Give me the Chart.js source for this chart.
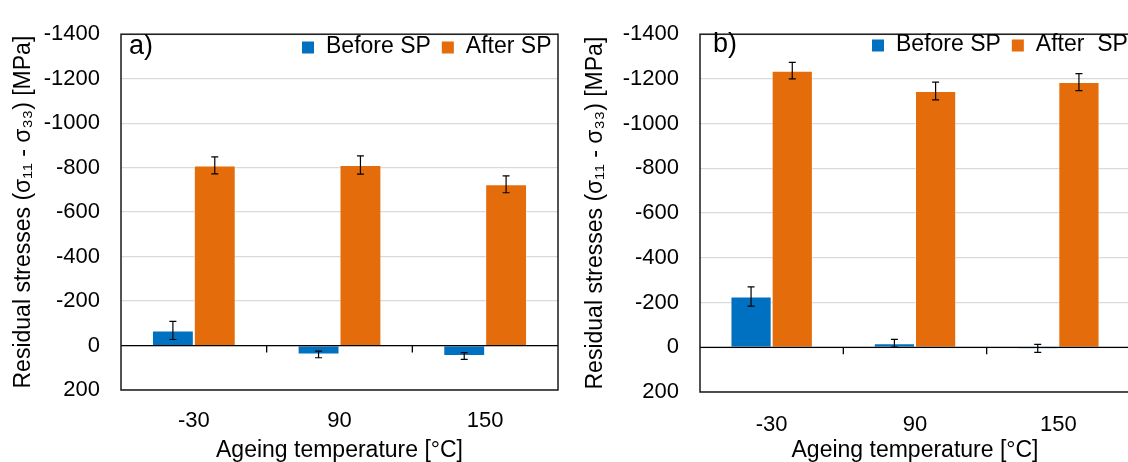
<!DOCTYPE html>
<html lang="en">
<head>
<meta charset="UTF-8">
<title>Residual stresses before and after SP</title>
<script src="https://cdn.jsdelivr.net/npm/chart.js@4.4.1/dist/chart.umd.min.js"></script>
<style>
    html, body { margin: 0; padding: 0; background: #fff; overflow: hidden; }
    #wrap { position: relative; width: 1128px; height: 462px; overflow: hidden; }
    #panelA { position: absolute; left: 0; top: 0; }
    #panelB { position: absolute; left: 564px; top: 0; }
</style>
</head>
<body>
<div id="wrap">
    <canvas id="panelA" width="564" height="462"></canvas>
    <canvas id="panelB" width="570" height="462"></canvas>
</div>
<script>
// categories (ageing temperature, °C)
const temperatures = ['-30', '90', '150'];

// panel a)
const beforeA = [-68, 40, 47];
const beforeErrA = [41, 15, 15];
const afterA = [-810, -812, -725];
const afterErrA = [38, 41, 38];

// panel b)
const beforeB = [-227, -18, 5];
const beforeErrB = [43, 17, 18];
const afterB = [-1237, -1146, -1186];
const afterErrB = [37, 40, 38];

// y axis (reversed: compressive stresses up)
const yMin = -1400;
const yMax = 200;
const yStep = 200;

const FONT = "'Liberation Sans', Arial, sans-serif";
const BLUE = '#0070C0';
const ORANGE = '#E46C0A';

// zero axis line, category ticks, error bars, frame, legend and panel label
const panelDecor = {
    id: 'panelDecor',
    afterDatasetsDraw(chart, args, opts) {
        const ctx = chart.ctx;
        const a = chart.chartArea;
        const x = chart.scales.x;
        const y = chart.scales.y;
        ctx.save();

        // error bars
        ctx.strokeStyle = '#000';
        ctx.lineWidth = 1.2;
        chart.data.datasets.forEach((ds, di) => {
            const meta = chart.getDatasetMeta(di);
            meta.data.forEach((bar, i) => {
                const v = ds.data[i];
                const e = ds.errors[i];
                const y1 = y.getPixelForValue(v - e);
                const y2 = y.getPixelForValue(v + e);
                ctx.beginPath();
                ctx.moveTo(bar.x, y1); ctx.lineTo(bar.x, y2);
                ctx.moveTo(bar.x - 3.5, y1); ctx.lineTo(bar.x + 3.5, y1);
                ctx.moveTo(bar.x - 3.5, y2); ctx.lineTo(bar.x + 3.5, y2);
                ctx.stroke();
            });
        });

        // horizontal axis crosses at 0
        const y0 = y.getPixelForValue(0);
        ctx.lineWidth = 1.3;
        ctx.beginPath();
        ctx.moveTo(a.left, y0); ctx.lineTo(a.right, y0);
        for (let i = 1; i < x.ticks.length; i++) {
            const bx = (x.getPixelForTick(i - 1) + x.getPixelForTick(i)) / 2;
            ctx.moveTo(bx, y0); ctx.lineTo(bx, y0 + 7);
        }
        ctx.stroke();

        // plot frame
        ctx.lineWidth = 1.5;
        ctx.strokeStyle = '#1a1a1a';
        ctx.strokeRect(a.left, a.top, a.right - a.left, a.bottom - a.top);

        // panel label
        ctx.fillStyle = '#000';
        ctx.textBaseline = 'middle';
        ctx.textAlign = 'left';
        ctx.font = '27px ' + FONT;
        ctx.fillText(opts.label, a.left + opts.labelDx, opts.labelY);

        // legend
        ctx.font = '23px ' + FONT;
        let lx = opts.legendX;
        chart.data.datasets.forEach(ds => {
            ctx.fillStyle = ds.backgroundColor;
            ctx.fillRect(lx, opts.legendY - 5.5, 12, 12);
            lx += 24;
            ctx.fillStyle = '#000';
            ctx.fillText(ds.label, lx, opts.legendY);
            lx += ctx.measureText(ds.label).width + 11;
        });

        ctx.restore();
    }
};

function makePanel(canvasId, before, beforeErr, after, afterErr, afterLabel, geo) {
    return new Chart(document.getElementById(canvasId), {
        type: 'bar',
        data: {
            labels: temperatures,
            datasets: [
                {
                    label: 'Before SP',
                    data: before,
                    errors: beforeErr,
                    backgroundColor: BLUE,
                    borderColor: 'rgba(255,255,255,0.45)',
                    borderWidth: 1
                },
                {
                    label: afterLabel,
                    data: after,
                    errors: afterErr,
                    backgroundColor: ORANGE,
                    borderColor: 'rgba(255,255,255,0.45)',
                    borderWidth: 1
                }
            ]
        },
        options: {
            responsive: false,
            animation: false,
            categoryPercentage: 0.575,
            barPercentage: 1,
            layout: { padding: { top: geo.top, right: geo.right, bottom: 0, left: 0 } },
            plugins: {
                legend: { display: false },
                tooltip: { enabled: false },
                panelDecor: {
                    label: geo.label,
                    labelDx: geo.labelDx,
                    labelY: geo.labelY,
                    legendX: geo.legendX,
                    legendY: geo.legendY
                }
            },
            scales: {
                x: {
                    grid: { display: false },
                    border: { display: false },
                    ticks: { color: '#000', font: { family: FONT, size: 22 }, padding: geo.xTickPad },
                    title: {
                        display: true,
                        text: 'Ageing temperature [°C]',
                        color: '#000',
                        font: { family: FONT, size: 23 },
                        padding: { top: 0, bottom: -2 }
                    },
                    afterFit: s => { s.height = geo.xHeight; }
                },
                y: {
                    reverse: true,
                    min: yMin,
                    max: yMax,
                    border: { display: false },
                    grid: { color: '#d9d9d9', lineWidth: 1.3, drawTicks: false },
                    ticks: {
                        stepSize: yStep,
                        color: '#000',
                        font: { family: FONT, size: 22 },
                        padding: 21,
                        callback: v => String(v)
                    },
                    title: {
                        display: true,
                        text: 'Residual stresses (σ₁₁ - σ₃₃) [MPa]',
                        color: '#000',
                        font: { family: FONT, size: 23 },
                        padding: { top: geo.yTitlePad, bottom: 0 }
                    },
                    afterFit: s => { s.width = geo.yWidth; }
                }
            }
        },
        plugins: [panelDecor]
    });
}

makePanel('panelA', beforeA, beforeErrA, afterA, afterErrA, 'After SP', {
    top: 23, right: 6, xHeight: 72, yWidth: 121, yTitlePad: 10, xTickPad: 10,
    label: 'a)', labelDx: 8, labelY: 47, legendX: 302, legendY: 47
});

makePanel('panelB', beforeB, beforeErrB, afterB, afterErrB, 'After  SP', {
    top: 23, right: 4, xHeight: 70, yWidth: 136, yTitlePad: 18, xTickPad: 12,
    label: 'b)', labelDx: 13, labelY: 45, legendX: 308, legendY: 45
});
</script>
</body>
</html>
